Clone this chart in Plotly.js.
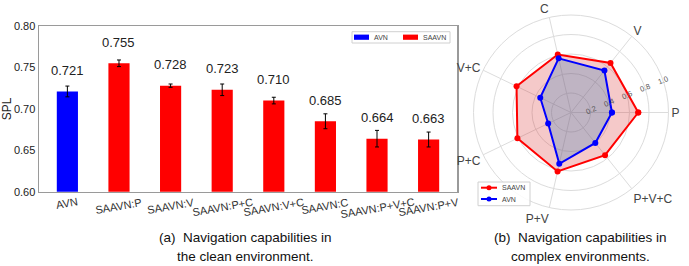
<!DOCTYPE html>
<html>
<head>
<meta charset="utf-8">
<script src="https://cdn.plot.ly/plotly-3.0.1.min.js"></script>
<style>html,body{margin:0;padding:0;background:#fff;}#chart{width:689px;height:266px;}</style>
</head>
<body>
<div id="chart"></div>
<script>
// ---- data: (a) bar chart ----
const barCategories = ['AVN','SAAVN:P','SAAVN:V','SAAVN:P+C','SAAVN:V+C','SAAVN:C','SAAVN:P+V+C','SAAVN:P+V'];
const splValues = [0.721, 0.755, 0.728, 0.723, 0.710, 0.685, 0.664, 0.663];
const splErrors = [0.0065, 0.004, 0.002, 0.007, 0.004, 0.009, 0.010, 0.009];
const yTickVals = [0.60, 0.65, 0.70, 0.75, 0.80];
const yTickText = ['0.60','0.65','0.70','0.75','0.80'];

// ---- data: (b) radar chart ----
const radarAxes = ['P','V','C','V+C','P+C','P+V','P+V+C'];
const saavnRadar = [0.69, 0.65, 0.61, 0.62, 0.61, 0.62, 0.56];
const avnRadar   = [0.42, 0.55, 0.57, 0.35, 0.26, 0.54, 0.40];
const radialTicks = [0.2, 0.4, 0.6, 0.8, 1.0];

const seriesNames = ['AVN','SAAVN'];
const captionA = ['(a)&nbsp; Navigation capabilities in','the clean environment.'];
const captionB = ['(b)&nbsp; Navigation capabilities in','complex environments.'];

// ---- styles ----
const BLUE = '#0000ff', RED = '#ff0000';
const W = 689, H = 266;
const px = x => x / W, py = y => 1 - y / H;
const FONT = 'Liberation Sans, Arial, sans-serif';

const closeLoop = a => a.concat([a[0]]);

const traces = [
  {
    type: 'bar', name: seriesNames[0],
    x: barCategories.slice(0, 1), y: splValues.slice(0, 1),
    error_y: {type: 'data', array: splErrors.slice(0, 1), color: '#000', thickness: 1, width: 2},
    marker: {color: BLUE}, width: 0.41, xaxis: 'x', yaxis: 'y', showlegend: false
  },
  {
    type: 'bar', name: seriesNames[1],
    x: barCategories.slice(1), y: splValues.slice(1),
    error_y: {type: 'data', array: splErrors.slice(1), color: '#000', thickness: 1, width: 2},
    marker: {color: RED}, width: 0.41, xaxis: 'x', yaxis: 'y', showlegend: false
  },
  {
    type: 'scatterpolar', name: seriesNames[1], subplot: 'polar',
    r: closeLoop(saavnRadar), theta: closeLoop(radarAxes),
    mode: 'lines+markers', fill: 'toself', fillcolor: 'rgba(214,39,40,0.25)',
    line: {color: RED, width: 2}, marker: {color: RED, size: 6}, showlegend: false
  },
  {
    type: 'scatterpolar', name: seriesNames[0], subplot: 'polar',
    r: closeLoop(avnRadar), theta: closeLoop(radarAxes),
    mode: 'lines+markers', fill: 'toself', fillcolor: 'rgba(31,119,180,0.25)',
    line: {color: BLUE, width: 2}, marker: {color: BLUE, size: 6}, showlegend: false
  }
];

const annotations = [];
// value labels above bars
barCategories.forEach((c, i) => {
  annotations.push({xref: 'x', yref: 'y', x: c, y: splValues[i], yshift: 21,
    text: splValues[i].toFixed(3), showarrow: false, xanchor: 'center', yanchor: 'middle',
    font: {family: FONT, size: 13, color: '#222'}});
});
// rotated category labels
barCategories.forEach((c) => {
  annotations.push({xref: 'x', yref: 'y', x: c, y: yTickVals[0], yshift: -1.5,
    text: c, showarrow: false, xanchor: 'center', yanchor: 'top', textangle: -10,
    font: {family: FONT, size: 11, color: '#333'}});
});
// captions
[[captionA, 245], [captionB, 580]].forEach(([cap, cx]) => {
  annotations.push({xref: 'paper', yref: 'paper', x: px(cx), y: py(237), text: cap[0],
    showarrow: false, xanchor: 'center', yanchor: 'middle', font: {family: FONT, size: 13.5, color: '#111'}});
  annotations.push({xref: 'paper', yref: 'paper', x: px(cx), y: py(256), text: cap[1],
    showarrow: false, xanchor: 'center', yanchor: 'middle', font: {family: FONT, size: 13.5, color: '#111'}});
});
// legend (a)
annotations.push({xref: 'paper', yref: 'paper', x: px(372), y: py(37.3), text: seriesNames[0],
  showarrow: false, xanchor: 'left', yanchor: 'middle', font: {family: FONT, size: 7, color: '#444'}});
annotations.push({xref: 'paper', yref: 'paper', x: px(421), y: py(37.3), text: seriesNames[1],
  showarrow: false, xanchor: 'left', yanchor: 'middle', font: {family: FONT, size: 7, color: '#444'}});
// legend (b)
annotations.push({xref: 'paper', yref: 'paper', x: px(500), y: py(187.7), text: seriesNames[1],
  showarrow: false, xanchor: 'left', yanchor: 'middle', font: {family: FONT, size: 7, color: '#444'}});
annotations.push({xref: 'paper', yref: 'paper', x: px(500), y: py(199), text: seriesNames[0],
  showarrow: false, xanchor: 'left', yanchor: 'middle', font: {family: FONT, size: 7, color: '#444'}});

const shapes = [
  // legend (a)
  {type: 'rect', xref: 'paper', yref: 'paper', x0: px(352), x1: px(450), y0: py(43), y1: py(31.7),
    line: {color: '#d0d0d0', width: 1}, fillcolor: '#fff'},
  {type: 'rect', xref: 'paper', yref: 'paper', x0: px(354), x1: px(369), y0: py(39.8), y1: py(34.6),
    line: {width: 0}, fillcolor: BLUE},
  {type: 'rect', xref: 'paper', yref: 'paper', x0: px(403), x1: px(418), y0: py(39.8), y1: py(34.6),
    line: {width: 0}, fillcolor: RED},
  // legend (b)
  {type: 'rect', xref: 'paper', yref: 'paper', x0: px(478), x1: px(530), y0: py(205.7), y1: py(182),
    line: {color: '#d0d0d0', width: 1}, fillcolor: 'rgba(255,255,255,0.85)'},
  {type: 'line', xref: 'paper', yref: 'paper', x0: px(481), x1: px(497), y0: py(187.7), y1: py(187.7),
    line: {color: RED, width: 2}},
  {type: 'circle', xref: 'paper', yref: 'paper', x0: px(486.5), x1: px(491.5), y0: py(190.2), y1: py(185.2),
    line: {width: 0}, fillcolor: RED},
  {type: 'line', xref: 'paper', yref: 'paper', x0: px(481), x1: px(497), y0: py(199), y1: py(199),
    line: {color: BLUE, width: 2}},
  {type: 'circle', xref: 'paper', yref: 'paper', x0: px(486.5), x1: px(491.5), y0: py(201.5), y1: py(196.5),
    line: {width: 0}, fillcolor: BLUE}
];

const cx = 571, cy = 112.5, R = 97.5;

const layout = {
  width: W, height: H,
  margin: {l: 0, r: 0, t: 0, b: 0, pad: 0},
  paper_bgcolor: '#fff', plot_bgcolor: '#fff',
  showlegend: false,
  barmode: 'overlay',
  font: {family: FONT, color: '#333'},
  xaxis: {
    domain: [px(39), px(457)], type: 'category', categoryarray: barCategories,
    range: [-0.55, barCategories.length - 0.45], showticklabels: false, ticks: '',
    showline: true, mirror: true, linecolor: '#9a9a9a', linewidth: 1.5, showgrid: false,
    zeroline: false, automargin: false, fixedrange: true
  },
  yaxis: {
    domain: [py(191.7), py(26)], range: [yTickVals[0], yTickVals[yTickVals.length - 1]],
    tickvals: yTickVals, ticktext: yTickText, ticks: '', showgrid: false, zeroline: false,
    showline: true, mirror: true, linecolor: '#9a9a9a', linewidth: 1.5,
    tickfont: {family: FONT, size: 11, color: '#222'},
    title: {text: 'SPL', font: {family: FONT, size: 12, color: '#222'}, standoff: 3},
    automargin: false, fixedrange: true
  },
  polar: {
    domain: {x: [px(cx - R), px(cx + R)], y: [py(cy + R), py(cy - R)]},
    bgcolor: 'rgba(0,0,0,0)',
    angularaxis: {
      type: 'category', categoryarray: radarAxes, rotation: 0, direction: 'counterclockwise',
      showline: true, linecolor: '#dcdcdc', linewidth: 1, gridcolor: '#dcdcdc', ticks: '',
      tickfont: {family: FONT, size: 12, color: '#444'}
    },
    radialaxis: {
      range: [0, 1], tickvals: radialTicks, ticktext: radialTicks.map(v => v.toFixed(1)),
      angle: 22.5, tickangle: 0, showline: false, ticks: '', gridcolor: '#dcdcdc',
      tickfont: {family: FONT, size: 7.5, color: '#555'}
    }
  },
  annotations: annotations,
  shapes: shapes
};

Plotly.newPlot('chart', traces, layout, {displayModeBar: false, staticPlot: true});
</script>
</body>
</html>
